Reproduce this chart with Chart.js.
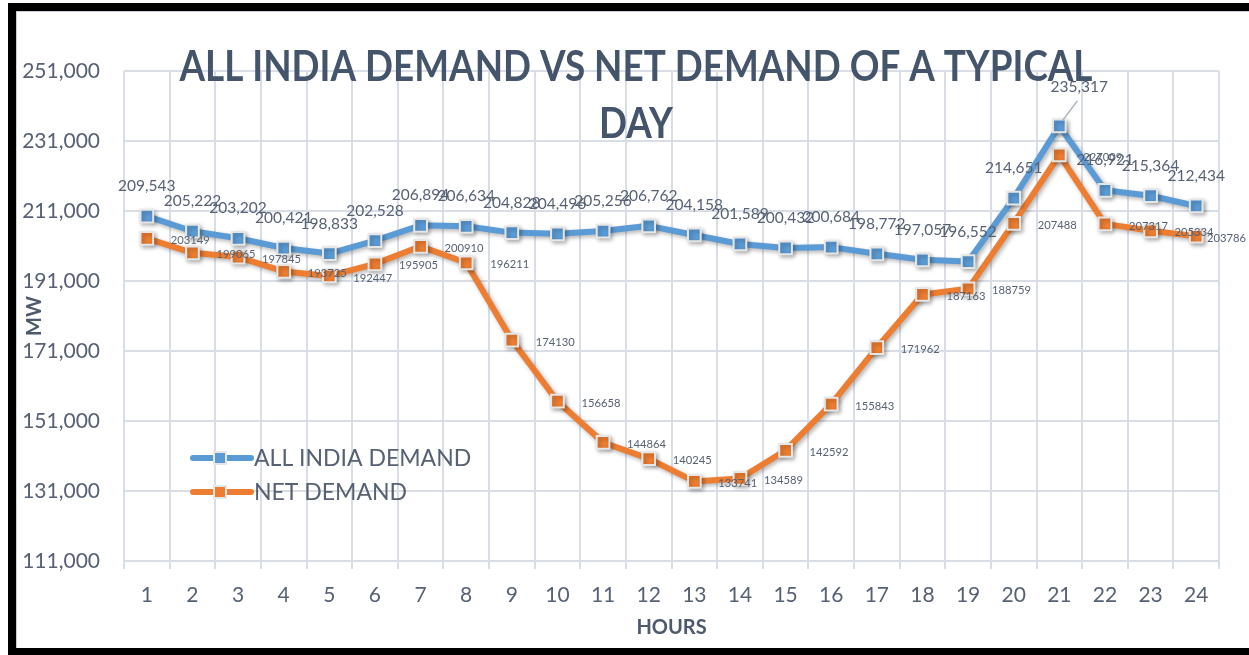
<!DOCTYPE html>
<html>
<head>
<meta charset="utf-8">
<title>All India Demand vs Net Demand</title>
<script src="https://cdn.jsdelivr.net/npm/chart.js@4.4.1/dist/chart.umd.min.js"></script>
<style>
  html, body { margin: 0; padding: 0; background: #fff; overflow: hidden; }
  #wrap { position: relative; width: 1249px; height: 655px; }
  #chart { position: absolute; left: 0; top: 0; }
  #frame {
    position: absolute; left: 8px; top: 3px; width: 1300px; height: 653px;
    box-sizing: border-box; border: 8px solid #000;
    box-shadow: inset 1px 1px 0 #c9ced6;
    pointer-events: none;
  }
</style>
</head>
<body>
<div id="wrap">
  <canvas id="chart" width="1249" height="655"></canvas>
  <div id="frame"></div>
</div>
<script>
// data
var hours = ['1', '2', '3', '4', '5', '6', '7', '8', '9', '10', '11', '12',
             '13', '14', '15', '16', '17', '18', '19', '20', '21', '22', '23', '24']
var allIndiaDemand = [209543, 205222, 203202, 200421, 198833, 202528, 206894, 206634,
                      204828, 204496, 205256, 206762, 204158, 201589, 200432, 200684,
                      198772, 197057, 196552, 214651, 235317, 216921, 215364, 212434]
var netDemand = [203149, 199065, 197845, 193725, 192447, 195905, 200910, 196211,
                 174130, 156658, 144864, 140245, 133741, 134589, 142592, 155843,
                 171962, 187163, 188759, 207488, 227009, 207317, 205334, 203786]
var seriesNames = ['ALL INDIA DEMAND', 'NET DEMAND']
var titleLines = ['ALL INDIA DEMAND VS NET DEMAND OF A TYPICAL', 'DAY']
var yMin = 111000, yMax = 251000, yStep = 20000

var blue = '#5b9bd5'
var orange = '#ed7d31'
var gridColor = '#d9dee6'
var textColor = '#566174'
var titleColor = '#44546a'

// soft shadow under lines and markers
var shadowPlugin = {
  id: 'lineShadow',
  beforeDatasetDraw: function (chart) {
    var c = chart.ctx
    c.save()
    c.shadowColor = 'rgba(0,0,0,0.30)'
    c.shadowBlur = 4
    c.shadowOffsetX = 2
    c.shadowOffsetY = 2
  },
  afterDatasetDraw: function (chart) {
    chart.ctx.restore()
  }
}

// value labels next to the points
var labelPlugin = {
  id: 'pointLabels',
  afterDatasetsDraw: function (chart) {
    var c = chart.ctx
    c.save()
    c.textBaseline = 'middle'

    var peak = allIndiaDemand.indexOf(Math.max.apply(null, allIndiaDemand))
    c.font = '15.5px Lato'
    c.fillStyle = textColor
    c.textAlign = 'center'
    chart.getDatasetMeta(0).data.forEach(function (pt, i) {
      var txt = allIndiaDemand[i].toLocaleString('en-US')
      if (i === peak) {
        c.strokeStyle = '#aab4c2'
        c.lineWidth = 1.5
        c.beginPath()
        c.moveTo(pt.x + 3, pt.y - 5)
        c.lineTo(pt.x + 18, pt.y - 25)
        c.stroke()
        c.fillText(txt, pt.x + 20, pt.y - 39)
      } else {
        c.fillText(txt, pt.x, pt.y - 30)
      }
    })

    c.font = '11.2px Lato'
    c.textAlign = 'left'
    chart.getDatasetMeta(1).data.forEach(function (pt, i) {
      var txt = String(netDemand[i])
      // keep the label inside the picture like the original does
      var x = Math.min(pt.x + 24, chart.width - 3 - c.measureText(txt).width)
      c.fillText(txt, x, pt.y + 2)
    })
    c.restore()
  }
}

// legend inside the plot + overlapping title
var decorPlugin = {
  id: 'decor',
  afterDraw: function (chart) {
    var c = chart.ctx
    var area = chart.chartArea
    var colors = [blue, orange]
    c.save()
    // legend
    seriesNames.forEach(function (name, i) {
      var y = area.top + 387 + i * 34
      var x0 = area.left + 69
      c.strokeStyle = colors[i]
      c.lineWidth = 6
      c.lineCap = 'round'
      c.beginPath()
      c.moveTo(x0, y)
      c.lineTo(x0 + 58, y)
      c.stroke()
      c.fillStyle = colors[i]
      c.strokeStyle = '#e6e6e6'
      c.lineWidth = 2
      c.fillRect(x0 + 21, y - 6, 12, 12)
      c.strokeRect(x0 + 21, y - 6, 12, 12)
      c.fillStyle = textColor
      c.font = '23px Lato'
      c.textAlign = 'left'
      c.textBaseline = 'middle'
      c.fillText(name, x0 + 61, y + 1)
    })
    // title, squeezed a bit to match the narrow original face
    c.font = 'bold 42px Lato'
    c.fillStyle = titleColor
    c.textAlign = 'center'
    c.textBaseline = 'middle'
    var w = c.measureText(titleLines[0]).width
    var sx = Math.min(1, 913 / w)
    titleLines.forEach(function (line, i) {
      c.save()
      c.translate(636, 67 + i * 57)
      c.scale(sx, 1)
      c.fillText(line, 0, 0)
      c.restore()
    })
    c.restore()
  }
}

var ctx = document.getElementById('chart').getContext('2d')
var demand_chart = new Chart(ctx, {
  type: 'line',
  data: {
    labels: hours,
    datasets: [{
      label: seriesNames[0],
      data: allIndiaDemand,
      borderColor: blue,
      backgroundColor: blue,
      borderWidth: 6,
      borderJoinStyle: 'round',
      pointStyle: 'rect',
      pointRadius: 9,
      pointBorderWidth: 2,
      pointBorderColor: '#e6e6e6',
      pointBackgroundColor: blue,
      tension: 0
    }, {
      label: seriesNames[1],
      data: netDemand,
      borderColor: orange,
      backgroundColor: orange,
      borderWidth: 6,
      borderJoinStyle: 'round',
      pointStyle: 'rect',
      pointRadius: 9,
      pointBorderWidth: 2,
      pointBorderColor: '#e6e6e6',
      pointBackgroundColor: orange,
      tension: 0
    }]
  },
  options: {
    responsive: false,
    animation: false,
    devicePixelRatio: 1,
    layout: { padding: { top: 71, right: 30, left: 0, bottom: 0 } },
    plugins: {
      legend: { display: false },
      title: { display: false },
      tooltip: { enabled: false }
    },
    scales: {
      x: {
        offset: true,
        grid: { offset: true, color: gridColor, lineWidth: 2, tickLength: 8, drawTicks: true },
        border: { color: gridColor, width: 2 },
        ticks: { color: textColor, font: { family: 'Lato', size: 21 }, padding: 14, maxRotation: 0 },
        title: {
          display: true, text: 'HOURS', color: '#4d596c',
          font: { family: 'Lato', size: 20, weight: 'bold' },
          padding: { top: 0, bottom: 15 }
        },
        afterFit: function (scale) { scale.height = 94 }
      },
      y: {
        min: yMin,
        max: yMax,
        grid: { color: gridColor, lineWidth: 2, drawTicks: false },
        border: { display: false },
        ticks: {
          stepSize: yStep,
          color: textColor,
          font: { family: 'Lato', size: 21 },
          padding: 24,
          callback: function (v) { return v.toLocaleString('en-US') }
        },
        title: {
          display: true, text: 'MW', color: '#4d596c',
          font: { family: 'Lato', size: 20, weight: 'bold' },
          padding: { top: 23, bottom: 0 }
        },
        afterFit: function (scale) { scale.width = 124 }
      }
    }
  },
  plugins: [shadowPlugin, labelPlugin, decorPlugin]
})
</script>
</body>
</html>
